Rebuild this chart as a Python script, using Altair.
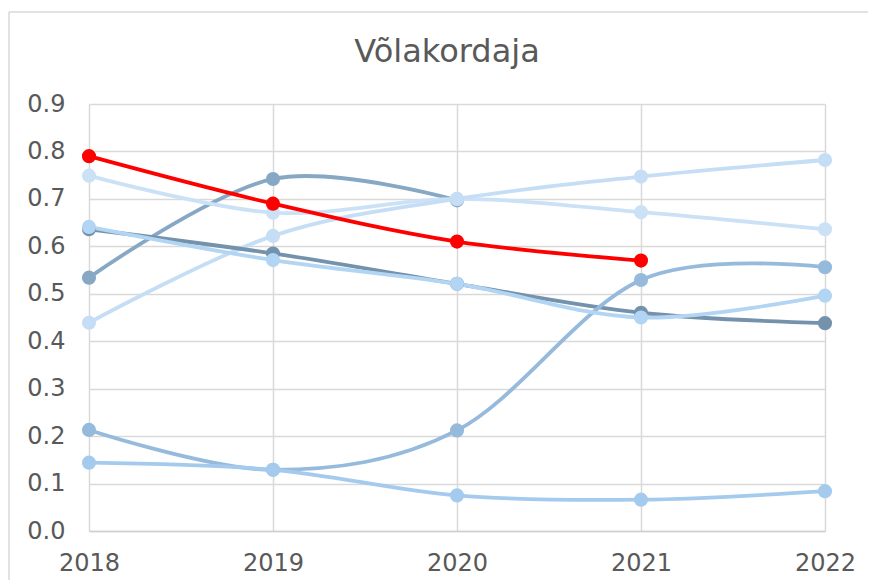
import altair as alt
import pandas as pd

years = [2018, 2019, 2020, 2021, 2022]

# series values (None = no value)
s_a = [0.534, 0.742, 0.697, None, None]
s_b = [0.749, 0.671, 0.700, 0.672, 0.636]
s_c = [0.439, 0.622, 0.700, 0.747, 0.782]
s_d = [0.636, 0.585, 0.521, 0.460, 0.438]
s_e = [0.641, 0.571, 0.521, 0.450, 0.496]
s_f = [0.213, 0.129, 0.212, 0.529, 0.556]
s_g = [0.144, 0.129, 0.075, 0.066, 0.084]
s_red = [0.790, 0.690, 0.610, 0.570, None]

series_names = ["s1", "s2", "s3", "s4", "s5", "s6", "s7", "s8"]
series_values = [s_a, s_b, s_c, s_d, s_f, s_g, s_e, s_red]
series_colors = ["#87a8c4", "#cbe1f6", "#c5def5", "#7492ab", "#96badb", "#a4cbee", "#b1d5f3", "#ff0000"]

rows = []
for name, vals in zip(series_names, series_values):
    for y, v in zip(years, vals):
        if v is not None:
            rows.append({"series": name, "year": y, "value": v})
df = pd.DataFrame(rows)

y_ticks = [0.0, 0.1, 0.2, 0.3, 0.4, 0.5, 0.6, 0.7, 0.8, 0.9]

lines = alt.Chart(df).mark_line(
    interpolate="cardinal",
    strokeWidth=3.8,
    point=alt.OverlayMarkDef(filled=True, size=200, opacity=1),
).encode(
    x=alt.X("year:Q",
            scale=alt.Scale(domain=[2018, 2022], nice=False, zero=False),
            axis=alt.Axis(values=years, format="d", title=None, grid=True,
                          gridColor="#d9d9d9", gridWidth=1.5,
                          domain=True, domainColor="#d0d0d0", domainWidth=1.5,
                          ticks=False, labelPadding=20, labelFontSize=24,
                          labelFlush=False,
                          labelColor="#595959", labelFont="DejaVu Sans")),
    y=alt.Y("value:Q",
            scale=alt.Scale(domain=[0, 0.9], nice=False),
            axis=alt.Axis(values=y_ticks, format=".1f", title=None,
                          grid=True, gridColor="#d9d9d9", gridWidth=1.5,
                          domain=False, ticks=False, labelPadding=24,
                          labelFontSize=24, labelColor="#595959",
                          labelFont="DejaVu Sans")),
    color=alt.Color("series:N",
                    scale=alt.Scale(domain=series_names, range=series_colors),
                    legend=None),
    order=alt.Order("year:Q"),
)

# decorative chart-area border (partly cropped in the reference)
border_v = alt.Chart().mark_rule(color="#d9d9d9", strokeWidth=1.5).encode(
    x=alt.value(-80), y=alt.value(-92), y2=alt.value(480))
border_h = alt.Chart().mark_rule(color="#d9d9d9", strokeWidth=1.5).encode(
    x=alt.value(-80), x2=alt.value(779), y=alt.value(-92))

chart = alt.layer(border_v, border_h, lines).properties(
    width=736,
    height=427,
    autosize=alt.AutoSizeParams(type="none"),
    padding={"left": 81, "top": 96, "right": 43, "bottom": 49},
    title=alt.TitleParams("Võlakordaja", fontSize=32, font="DejaVu Sans",
                          fontWeight="normal", color="#595959",
                          anchor="middle", baseline="alphabetic",
                          offset=0, dx=-10, dy=83),
).configure_view(stroke=None)

chart.save("out.html", embed_options={"renderer": "svg", "actions": False})
